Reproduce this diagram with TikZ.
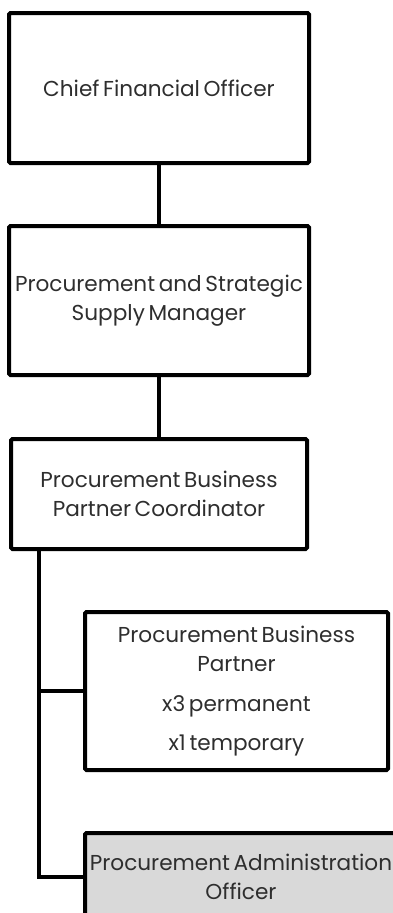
\documentclass[tikz,border=0pt]{standalone}
\usepackage{fontspec}
\setmainfont{Poppins}
\newcommand{\orgboxfont}{\fontsize{21.6}{28.5}\selectfont\spaceskip=0.17em plus 0.05em minus 0.02em\relax}
\begin{document}
\begin{tikzpicture}[x=1pt,y=-1pt,
  box/.style={draw=black, line width=4pt, rounded corners=1.5pt, align=center,
    text=txtgray, inner sep=0pt, font=\orgboxfont},
  conn/.style={draw=black, line width=4pt}]
\definecolor{txtgray}{HTML}{2E2E2E}
\definecolor{admgray}{HTML}{D9D9D9}
\useasboundingbox (0,0) rectangle (393,913);
\node[box, minimum width=300pt, minimum height=150pt] (b1) at (159,88) {Chief Financial Officer};
\node[box, minimum width=300pt, minimum height=149pt] (b2) at (159,300.5) {Procurement and Strategic\\Supply Manager};
\node[box, minimum width=296pt, minimum height=110pt] (b3) at (159,494) {Procurement Business\\Partner Coordinator};
\node[box, minimum width=303pt, minimum height=158pt] (b4) at (236.5,691) {Procurement Business\\Partner\\[12pt]x3 permanent\\[10pt]x1 temporary};
\node[box, fill=admgray, minimum width=312pt, minimum height=88pt] (b5) at (241,877) {Procurement Administration\\Officer};
\draw[conn] (b1.south) -- (b2.north);
\draw[conn] (b2.south) -- (b3.north);
\coordinate (trunk) at ([xshift=30pt]b3.south west);
\draw[conn] (trunk) |- (b5.west);
\draw[conn] (b4.west) -- (b4.west -| trunk);
\end{tikzpicture}
\end{document}
